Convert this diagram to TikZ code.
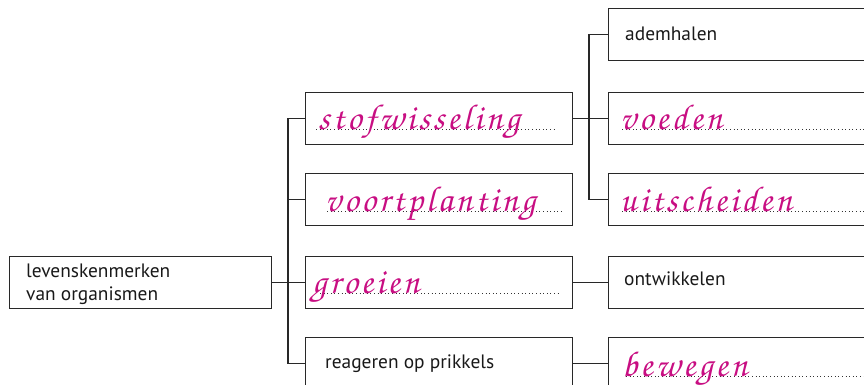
\documentclass[tikz,border=0pt]{standalone}
\usepackage[T1,TU]{fontenc}
\usepackage{fontspec}
\setmainfont{PT Sans}
\definecolor{hand}{RGB}{200,14,130}
\definecolor{frame}{RGB}{40,40,40}
\newcommand\lsp[1]{\lspi#1\relax}
\def\lspi#1{\ifx#1\relax\else#1\kern3pt\expandafter\lspi\fi}
\newcommand\handfont{\fontencoding{T1}\fontfamily{pzc}\fontseries{mb}\fontshape{it}\fontsize{36}{36}\selectfont\color{hand}}
\begin{document}
\begin{tikzpicture}[x=1pt,y=-1pt,
  box/.style={draw=frame, line width=1.2pt, inner sep=0pt, anchor=north west, minimum height=52pt},
  lbox/.style={box, minimum width=262pt},
  mbox/.style={box, minimum width=267pt},
  rbox/.style={box, minimum width=280pt},
  conn/.style={draw=frame, line width=1.2pt},
  txt/.style={anchor=base west, inner sep=0pt, font=\fontsize{19.4}{23}\selectfont, text=black!90},
  hw/.style={anchor=base west, inner sep=0pt, font=\handfont},
  dots/.style={draw=black!80, line width=1pt, dash pattern=on 1pt off 2.6pt}]
\useasboundingbox (0,0) rectangle (864,385);
\clip (0,0) rectangle (864,385);
% boxes
\node[lbox] (L) at (9,255.5) {};
\node[mbox] (stof) at (305,92) {};
\node[mbox] (voort) at (305,173) {};
\node[mbox] (groei) at (305,255.5) {};
\node[mbox] (reag) at (305,337) {};
\node[rbox] (adem) at (608,8) {};
\node[rbox] (voed) at (608,92) {};
\node[rbox] (uitsch) at (608,173) {};
\node[rbox] (ontw) at (608,255.5) {};
\node[rbox] (bew) at (608,337) {};
% connectors
\draw[conn] (L.east) -- (groei.west);
\draw[conn] (stof.west) -- ++(-17,0) |- (reag.west);
\draw[conn] (voort.west) -- ++(-17,0);
\draw[conn] (stof.east) -- (voed.west);
\draw[conn] (adem.west) -- ++(-19,0) |- (uitsch.west);
\draw[conn] (groei.east) -- (ontw.west);
\draw[conn] (reag.east) -- (bew.west);
% dotted answer lines
\coordinate (d1a) at (316,130); \coordinate (d1b) at (557,130);
\coordinate (d2a) at (327,211); \coordinate (d2b) at (563,211);
\coordinate (d3a) at (320,293); \coordinate (d3b) at (558,293);
\coordinate (d4a) at (622,130); \coordinate (d4b) at (870,130);
\coordinate (d5a) at (622,211); \coordinate (d5b) at (870,211);
\coordinate (d6a) at (626,376); \coordinate (d6b) at (870,376);
\draw[dots] (d1a) -- (d1b);
\draw[dots] (d2a) -- (d2b);
\draw[dots] (d3a) -- (d3b);
\draw[dots] (d4a) -- (d4b);
\draw[dots] (d5a) -- (d5b);
\draw[dots] (d6a) -- (d6b);
% printed text
\node[txt] (t1) at (26,277) {levenskenmerken};
\node[txt] (t2) at (26,300) {van organismen};
\node[txt] (t3) at (625,41) {ademhalen};
\node[txt] (t4) at (624,285) {ontwikkelen};
\node[txt] (t5) at (325,368) {reageren op prikkels};
% handwritten answers
\node[hw] (h1) at (318,130) {\lsp{stofwisseling}};
\node[hw] (h2) at (325,211) {\lsp{voortplanting}};
\node[hw] (h3) at (312,293) {\lsp{groeien}};
\node[hw] (h4) at (620,130) {\lsp{voeden}};
\node[hw] (h5) at (620,211) {\lsp{uitscheiden}};
\node[hw] (h6) at (622,376) {\lsp{bewegen}};
\end{tikzpicture}
\end{document}
